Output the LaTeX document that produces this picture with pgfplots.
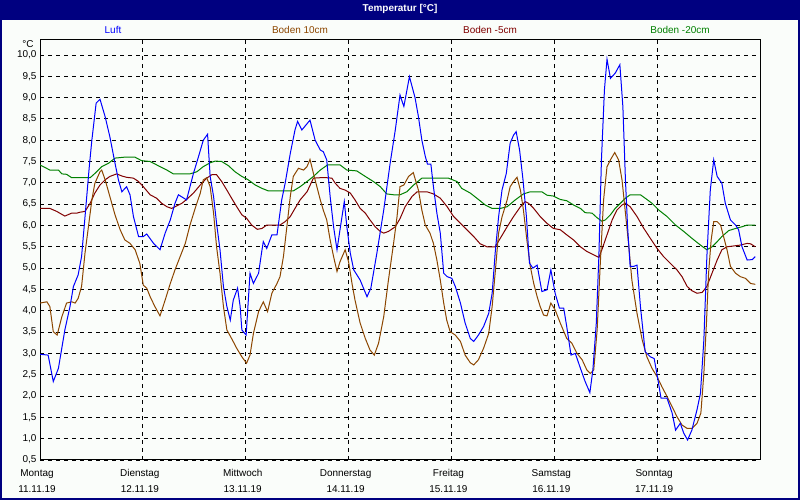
\documentclass[border=0pt]{standalone}
\usepackage{pgfplots}
\pgfplotsset{compat=1.18}
\usepackage{fontspec}
\setmainfont{Liberation Sans}
\definecolor{frame}{RGB}{0,0,128}
\definecolor{luft}{RGB}{0,0,255}
\definecolor{b10}{RGB}{140,70,0}
\definecolor{b5}{RGB}{128,0,0}
\definecolor{b20}{RGB}{0,128,0}
\definecolor{bg}{RGB}{250,253,250}
\begin{document}
\begin{tikzpicture}[x=1bp,y=1bp,font=\fontsize{10}{12}\selectfont]
% window frame and title bar
\fill[frame] (0,0) rectangle (800,500);
\fill[bg] (2,2) rectangle (798,480);
\node[text=white,font=\fontsize{10}{12}\selectfont\bfseries] at (400,491) {Temperatur [°C]};
% series names
\node[text=luft] at (113,470) {Luft};
\node[text=b10] at (300,470) {Boden 10cm};
\node[text=b5] at (490,470) {Boden -5cm};
\node[text=b20] at (680,470) {Boden -20cm};
\node at (28,456) {°C};
\begin{axis}[
    at={(40bp,40bp)}, anchor=south west,
    width=720bp, height=420bp, scale only axis,
    xmin=0, xmax=168, ymin=0.5, ymax=10.35,
    xtick={0,24,48,72,96,120,144},
    xticklabels={Montag\\11.11.19,Dienstag\\12.11.19,Mittwoch\\13.11.19,Donnerstag\\14.11.19,Freitag\\15.11.19,Samstag\\16.11.19,Sonntag\\17.11.19},
    ytick={0.5,1,...,10},
    major tick length=0pt,
    xmajorgrids, ymajorgrids,
    grid style={black, line width=0.8bp, dash pattern=on 4bp off 4bp},
    axis line style={black, line width=1bp},
    /pgf/number format/.cd, fixed, fixed zerofill, precision=1, use comma, assume math mode=true,
    /pgfplots/.cd,
    yticklabel style={font=\fontsize{10}{12}\selectfont},
    xticklabel style={align=center, font=\fontsize{10}{16}\selectfont, xshift=-3bp, yshift=-6bp},
    every axis plot/.append style={line width=1bp, no marks},
    clip=true,
]
\addplot[b20] coordinates {
(0,7.42) (2.3,7.3) (4.3,7.3) (5.1,7.21) (6.2,7.2) (7.4,7.12) (11.7,7.12) (12.8,7.22) (14.4,7.38) (16.0,7.46) (17.5,7.58) (19.5,7.6) (22.2,7.6) (23.7,7.52) (25.7,7.5) (28.0,7.38) (29.6,7.3) (31.1,7.21) (35.0,7.21) (36.6,7.26) (38.1,7.38) (39.7,7.47) (40.9,7.51) (42.4,7.5) (44.0,7.4) (45.5,7.26) (47.1,7.15) (48.6,7.07) (50.2,6.95) (51.8,6.87) (53.3,6.81) (59.1,6.81) (60.7,6.91) (62.3,7.03) (63.8,7.15) (65.4,7.3) (67.1,7.42) (70.0,7.42) (71.6,7.3) (73.9,7.28) (75.9,7.15) (77.8,7.03) (79.4,6.91) (80.9,6.74) (82.5,6.72) (84.0,6.72) (85.6,6.79) (87.2,6.95) (89.1,7.11) (95.3,7.11) (97.3,7.03) (98.4,6.87) (100.4,6.76) (102.3,6.61) (103.9,6.48) (105.5,6.4) (107.4,6.4) (109.0,6.44) (110.9,6.6) (112.8,6.74) (114.4,6.79) (117.1,6.79) (118.3,6.71) (119.8,6.69) (121.4,6.61) (122.9,6.58) (124.5,6.48) (126.1,6.4) (127.2,6.3) (128.8,6.29) (130.0,6.18) (131.1,6.1) (131.9,6.13) (133.1,6.25) (134.2,6.4) (135.4,6.52) (136.6,6.64) (137.7,6.72) (140.1,6.72) (141.2,6.64) (142.8,6.52) (144.4,6.36) (146.3,6.21) (148.3,6.01) (150.2,5.86) (152.1,5.7) (154.1,5.54) (155.6,5.43) (156.8,5.5) (158.0,5.62) (159.1,5.74) (160.7,5.88) (162.3,5.93) (163.8,5.97) (165.0,6.01) (166.9,6.01)
};
\addplot[b5] coordinates {
(0,6.4) (2.3,6.4) (3.9,6.33) (5.8,6.22) (7.4,6.29) (8.6,6.29) (9.3,6.31) (10.5,6.33) (11.7,6.52) (12.8,6.76) (14.0,6.95) (15.2,7.07) (16.3,7.15) (17.9,7.21) (19.1,7.16) (20.2,7.13) (21.8,7.11) (23.0,7.03) (24.1,6.91) (25.7,6.72) (27.2,6.64) (28.4,6.52) (29.6,6.44) (30.7,6.4) (31.9,6.46) (33.1,6.52) (34.2,6.61) (35.8,6.76) (37.4,6.95) (38.9,7.11) (40.1,7.19) (41.2,7.19) (42.4,7.03) (43.6,6.83) (44.7,6.64) (45.9,6.44) (47.1,6.25) (48.2,6.17) (49.4,6.01) (50.7,5.91) (51.8,5.93) (52.9,6.01) (56.0,6.01) (57.2,6.09) (58.4,6.21) (59.5,6.4) (60.7,6.6) (62.3,6.79) (63.8,7.11) (65.4,7.12) (66.9,7.12) (68.1,7.11) (68.9,6.99) (70.0,6.87) (71.2,6.83) (72.4,6.76) (73.5,6.6) (74.7,6.4) (75.9,6.29) (77.0,6.13) (78.2,5.97) (79.4,5.86) (80.2,5.82) (81.3,5.86) (82.9,5.97) (84.0,6.16) (85.2,6.44) (86.8,6.68) (88.0,6.79) (90.3,6.79) (91.8,6.74) (93.4,6.64) (95.0,6.44) (96.5,6.21) (98.1,6.05) (99.6,5.9) (101.2,5.74) (102.7,5.57) (104.3,5.5) (106.2,5.5) (107.4,5.7) (109.0,5.97) (110.5,6.21) (112.1,6.44) (113.2,6.56) (114.0,6.52) (115.2,6.4) (116.7,6.21) (118.3,6.05) (119.8,5.93) (121.4,5.9) (122.9,5.78) (124.5,5.66) (126.1,5.5) (127.6,5.39) (129.2,5.31) (130.4,5.25) (131.1,5.43) (132.3,5.78) (133.5,6.13) (134.6,6.36) (135.8,6.48) (136.6,6.52) (137.7,6.44) (139.3,6.21) (140.9,5.93) (142.4,5.7) (144.0,5.46) (145.5,5.27) (147.1,5.11) (148.6,4.96) (149.8,4.8) (151.0,4.57) (152.1,4.47) (153.3,4.41) (154.5,4.43) (155.6,4.57) (156.8,4.88) (158.0,5.19) (159.1,5.43) (160.3,5.5) (161.9,5.52) (163.4,5.54) (165.0,5.58) (165.8,5.57) (166.9,5.5)
};
\addplot[b10] coordinates {
(0,4.18) (1.6,4.21) (2.3,4.1) (3.1,3.51) (4.0,3.43) (5.1,3.86) (6.2,4.18) (7.4,4.21) (8.2,4.18) (8.9,4.29) (9.7,4.57) (10.5,5.35) (11.3,5.97) (12.1,6.6) (12.8,6.99) (14.0,7.26) (14.4,7.3) (15.2,7.07) (16.3,6.68) (17.5,6.25) (18.7,5.9) (19.8,5.66) (21.0,5.58) (22.2,5.43) (23.3,5.11) (24.1,4.6) (24.9,4.53) (25.7,4.33) (26.8,4.1) (28.0,3.88) (29.2,4.25) (30.4,4.64) (31.5,4.96) (32.7,5.27) (33.9,5.58) (35.0,6.01) (36.2,6.4) (37.4,6.76) (38.1,7.07) (38.9,7.12) (39.7,6.91) (40.5,6.29) (41.2,5.5) (42.0,4.88) (42.8,4.1) (43.6,3.55) (44.7,3.35) (45.9,3.12) (47.1,2.92) (48.2,2.77) (49.0,2.96) (49.8,3.47) (51.0,3.98) (52.1,4.21) (53.1,3.98) (54.1,4.41) (55.3,4.64) (56.0,4.8) (56.8,5.27) (57.6,5.97) (58.4,6.68) (59.1,7.15) (60.3,7.34) (61.5,7.3) (62.3,7.38) (63.0,7.55) (63.8,7.22) (64.6,6.91) (65.4,6.6) (66.1,6.36) (66.9,6.13) (67.7,5.66) (68.5,5.27) (69.3,4.92) (70.0,5.15) (71.2,5.43) (72.0,5.15) (72.8,4.64) (73.5,4.25) (74.7,3.71) (75.9,3.35) (77.0,3.08) (78.0,2.96) (79.0,3.24) (80.2,3.86) (81.3,4.72) (82.5,5.58) (83.3,6.2) (84.0,6.91) (84.9,6.95) (86.0,7.15) (87.1,7.24) (88.3,6.83) (89.1,6.36) (89.9,6.01) (91.0,5.82) (91.8,5.58) (92.6,5.19) (93.4,4.72) (94.2,4.18) (94.9,3.78) (95.7,3.51) (96.9,3.43) (98.1,3.28) (99.2,2.96) (100.4,2.78) (101.2,2.73) (102.3,2.85) (103.5,3.12) (104.7,3.47) (105.5,4.1) (106.2,4.88) (107.0,5.82) (107.8,6.2) (109.0,6.6) (109.7,6.91) (110.5,7.03) (111.3,7.13) (112.1,6.83) (112.8,6.36) (113.6,5.66) (114.4,5.04) (115.2,4.64) (116.0,4.33) (116.7,4.1) (117.5,3.9) (118.3,3.88) (119.2,4.18) (120.2,4.02) (121.4,3.71) (122.9,3.35) (124.1,3.24) (125.3,3.0) (126.5,2.85) (127.6,2.61) (128.4,2.53) (129.2,2.61) (130.0,3.55) (130.7,5.04) (131.5,6.6) (132.3,7.38) (133.1,7.54) (134.1,7.71) (135.0,7.54) (135.8,7.07) (136.6,6.29) (137.4,5.5) (138.1,4.72) (139.3,3.94) (140.5,3.32) (141.6,2.92) (142.8,2.65) (144.0,2.45) (145.1,2.22) (146.3,1.99) (147.5,1.75) (148.6,1.52) (149.8,1.32) (151.0,1.24) (152.1,1.24) (153.3,1.36) (154.2,1.6) (154.9,2.53) (155.5,3.71) (156.0,4.88) (156.6,5.66) (157.2,6.09) (158.0,6.09) (158.8,6.01) (159.5,5.74) (160.3,5.43) (161.1,5.04) (162.3,4.88) (163.4,4.8) (164.6,4.76) (165.8,4.64) (166.9,4.62)
};
\addplot[luft] coordinates {
(0,2.98) (1.9,2.96) (3.1,2.34) (4.3,2.65) (5.8,3.55) (7.0,4.1) (7.8,4.57) (8.9,4.84) (9.7,5.27) (10.5,6.2) (11.5,7.38) (12.1,8.0) (13.1,8.87) (14.0,8.96) (15.2,8.55) (16.3,8.08) (17.5,7.46) (18.3,7.07) (19.1,6.79) (20.2,6.91) (21.0,6.72) (21.8,6.21) (23.0,5.74) (24.1,5.74) (24.9,5.8) (26.5,5.58) (28.0,5.43) (29.2,5.82) (30.4,6.13) (31.5,6.52) (32.3,6.72) (34.2,6.6) (35.8,7.22) (37.0,7.62) (38.1,8.0) (39.1,8.14) (39.7,7.15) (40.5,6.68) (41.2,6.05) (42.0,5.43) (42.8,4.57) (43.6,4.1) (44.4,3.78) (45.1,4.25) (46.1,4.53) (46.7,4.1) (47.1,3.55) (48.1,3.43) (49.0,4.88) (49.8,4.64) (51.0,4.88) (51.8,5.43) (52.1,5.62) (52.9,5.46) (54.1,5.78) (55.3,5.78) (56.4,6.6) (57.2,6.99) (58.4,7.69) (59.5,8.24) (60.1,8.44) (61.1,8.24) (63.0,8.47) (64.2,8.0) (65.4,7.77) (66.1,7.73) (66.9,7.54) (67.7,6.68) (68.5,5.97) (69.3,5.43) (70.0,5.9) (71.0,6.56) (71.6,5.97) (72.4,5.35) (73.2,4.96) (74.7,4.72) (76.3,4.33) (77.2,4.53) (78.6,5.35) (80.2,6.36) (81.7,7.46) (82.9,8.24) (84.0,9.06) (84.9,8.79) (86.2,9.49) (87.5,9.0) (88.3,8.55) (89.1,8.0) (89.9,7.62) (90.4,7.44) (91.2,7.44) (91.8,6.91) (92.6,6.29) (93.4,5.82) (94.2,4.88) (95.0,4.8) (96.1,4.76) (96.9,4.57) (98.1,4.18) (99.2,3.71) (100.4,3.35) (101.2,3.28) (102.3,3.43) (103.5,3.63) (104.7,3.94) (105.5,4.41) (106.2,5.35) (107.0,6.2) (107.8,6.83) (108.8,7.22) (109.7,7.93) (110.5,8.12) (111.1,8.2) (111.9,7.77) (112.7,7.07) (113.5,6.2) (114.2,5.12) (115.0,5.0) (116.0,5.07) (117.1,4.45) (118.3,4.49) (119.2,4.96) (120.2,4.41) (121.2,4.06) (122.2,4.06) (122.9,3.63) (123.9,2.96) (124.9,3.0) (126.1,2.65) (127.2,2.34) (128.3,2.08) (129.0,2.61) (129.8,3.71) (130.4,5.27) (131.0,7.54) (131.7,9.18) (132.3,9.9) (133.1,9.45) (134.2,9.57) (135.3,9.77) (136.0,8.79) (136.6,7.07) (137.1,5.97) (137.7,5.04) (138.5,5.04) (139.3,5.07) (140.1,4.1) (141.2,3.04) (142.4,2.92) (143.3,2.88) (144.0,2.49) (144.9,1.95) (146.3,1.95) (147.5,1.6) (148.3,1.2) (149.4,1.36) (150.2,1.13) (151.1,0.97) (152.1,1.2) (153.3,1.68) (154.1,2.06) (154.9,3.32) (155.6,5.27) (156.4,6.83) (157.2,7.54) (158.0,7.15) (159.1,6.99) (159.9,6.52) (161.1,6.13) (162.3,6.01) (163.0,5.9) (163.8,5.5) (165.0,5.19) (166.2,5.2) (166.9,5.27)
};
\end{axis}
\end{tikzpicture}
\end{document}
